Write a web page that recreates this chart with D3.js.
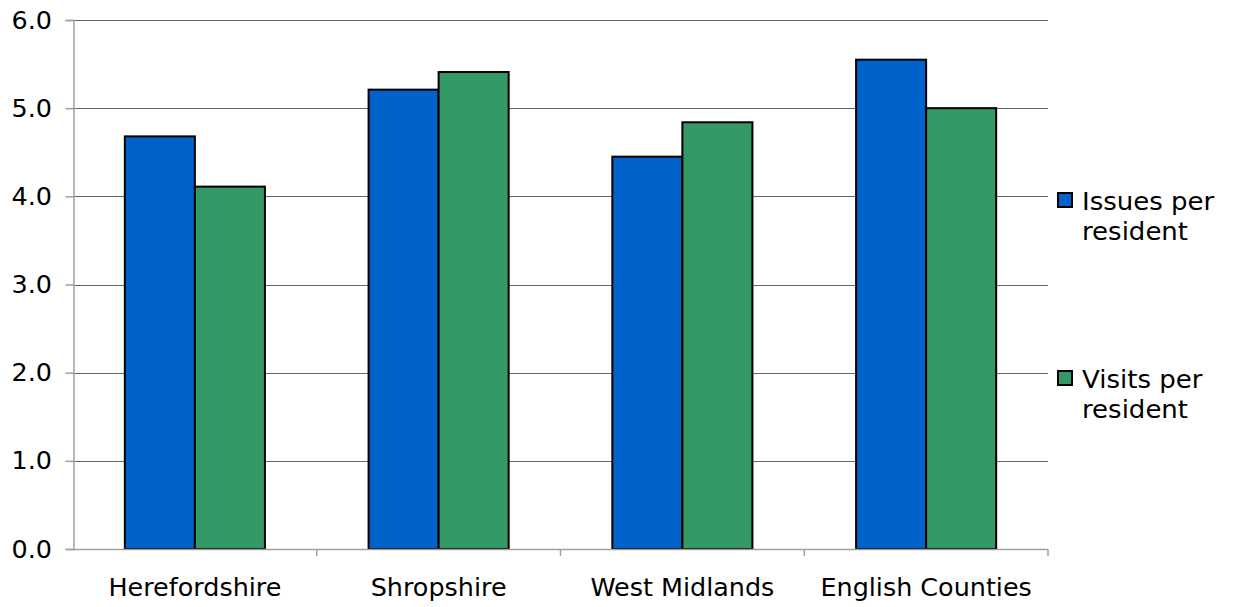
<!DOCTYPE html>
<html><head><meta charset="utf-8">
<script src="https://cdn.jsdelivr.net/npm/d3@7"></script>
<style>body{margin:0;background:#fff}svg{display:block}text{font-family:"DejaVu Sans",sans-serif;fill:#000}</style>
</head><body><svg id="c" width="1234" height="607"></svg>
<script>
const categories = ["Herefordshire","Shropshire","West Midlands","English Counties"];
const seriesNames = ["Issues per resident","Visits per resident"];
const legendLines = [["Issues per","resident"],["Visits per","resident"]];
const issues = [4.68, 5.21, 4.45, 5.55];
const visits = [4.11, 5.41, 4.84, 5.00];
const yTicks = [0,1,2,3,4,5,6];
const colors = ["#0063cc","#339966"];

const svg = d3.select("#c");
const x0 = d3.scaleBand().domain(categories).range([73,1048]).paddingInner(0).paddingOuter(0);
const y = d3.scaleLinear().domain([0,6]).range([549,20]);
const x1 = d3.scaleBand().domain([0,1]).range([0, x0.bandwidth()]).paddingInner(0).paddingOuter(0.74);

function label(sel, x, yy, txt, size, anchor, sx){
  return sel.append("text")
    .attr("transform", `translate(${x},${yy}) scale(${sx},1)`)
    .attr("text-anchor", anchor).attr("font-size", size).text(txt);
}

// gridlines
svg.append("g").selectAll("line").data(yTicks.filter(d=>d>0)).join("line")
  .attr("x1",73).attr("x2",1048).attr("y1",d=>Math.round(y(d))+0.5).attr("y2",d=>Math.round(y(d))+0.5)
  .attr("stroke","#666").attr("stroke-width",1);

// bars
const data = [issues, visits];
const g = svg.append("g");
categories.forEach((c,i)=>{
  [0,1].forEach(s=>{
    g.append("rect")
      .attr("x", x0(c)+x1(s)).attr("y", y(data[s][i]))
      .attr("width", x1.bandwidth()).attr("height", y(0)-y(data[s][i]))
      .attr("fill", colors[s]).attr("stroke","#000").attr("stroke-width",2);
  });
});

// y axis
const ya = d3.axisLeft(y).tickValues(yTicks).tickFormat("").tickSize(8);
const yg = svg.append("g").attr("transform","translate(73.5,0)").call(ya);
yg.select(".domain").attr("stroke","#a0a0a0").attr("stroke-width",1.5);
yg.selectAll(".tick line").attr("stroke","#a0a0a0").attr("stroke-width",1.5);
const yl = svg.append("g");
yTicks.forEach(t=>{
  label(yl, 52, y(t)+8.5, d3.format(".1f")(t), 24.5, "end", 1.04);
});

// x axis
const xa = svg.append("g");
xa.append("line").attr("x1",73).attr("x2",1048).attr("y1",y(0)+0.5).attr("y2",y(0)+0.5).attr("stroke","#a0a0a0").attr("stroke-width",1.5);
xa.selectAll("line.t").data(categories.map(c=>x0(c)+x0.bandwidth())).join("line").attr("class","t")
  .attr("x1",d=>d).attr("x2",d=>d).attr("y1",y(0)).attr("y2",y(0)+7).attr("stroke","#a0a0a0").attr("stroke-width",1.5);
categories.forEach(c=>{
  label(xa, x0(c)+x0.bandwidth()/2, 596, c, 24, "middle", 1.06);
});

// legend
const lg = svg.append("g");
const ly = [193, 371];
legendLines.forEach((lines,i)=>{
  lg.append("rect").attr("x",1058).attr("y",ly[i]).attr("width",14).attr("height",14)
    .attr("fill",colors[i]).attr("stroke","#000").attr("stroke-width",2);
  lines.forEach((t,j)=>{
    label(lg, 1082, ly[i]+17+j*30, t, 25, "start", 1.04);
  });
});
</script></body></html>
